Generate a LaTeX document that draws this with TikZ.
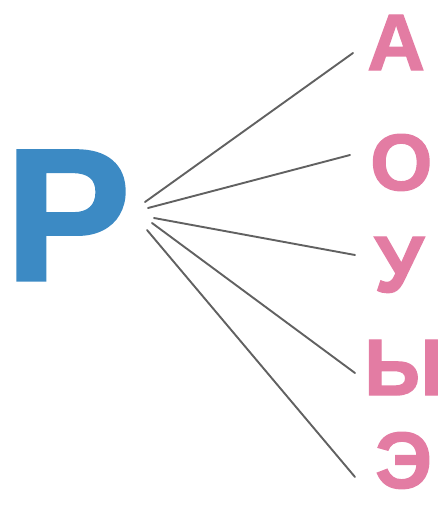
\documentclass[tikz,border=0pt]{standalone}
\usepackage{fontspec}
\setmainfont{Liberation Sans}
\newfontfamily\heavysans{Liberation Sans}[BoldFeatures={FakeBold=1.6}]
\usetikzlibrary{positioning}
\definecolor{consblue}{RGB}{60,138,196}
\definecolor{vowelpink}{RGB}{227,124,163}

\begin{document}
\begin{tikzpicture}[x=1pt,y=-1pt,
    cons/.style={anchor=base west,inner sep=0pt,text=consblue,font=\fontsize{188}{188}\heavysans\bfseries},
    vowel/.style={anchor=base west,inner sep=0pt,text=vowelpink,font=\fontsize{80}{80}\heavysans\bfseries},
    link/.style={line width=1.9pt,black!62,line cap=round}]
  \useasboundingbox (0,0) rectangle (445,515);
  \node[cons] (r) at (5,280) {Р};
  % vowel, base point, line start and line end
  \foreach \n/\l/\x/\yb/\sx/\sy/\ex/\ey in
    {a/А/367/70/145/202/353/53, o/О/370/190/148/208/350/155,
     u/У/374/292/154/218/355/255, y/Ы/364/395/152/223/355/373,
     e/Э/375/488/147/230/355/477} {
    \node[vowel] (\n) at (\x,\yb) {\l};
    \coordinate (\n s) at (\sx,\sy);
    \coordinate (\n e) at (\ex,\ey);
    \draw[link] (\n s) -- (\n e);
  }
\end{tikzpicture}
\end{document}
